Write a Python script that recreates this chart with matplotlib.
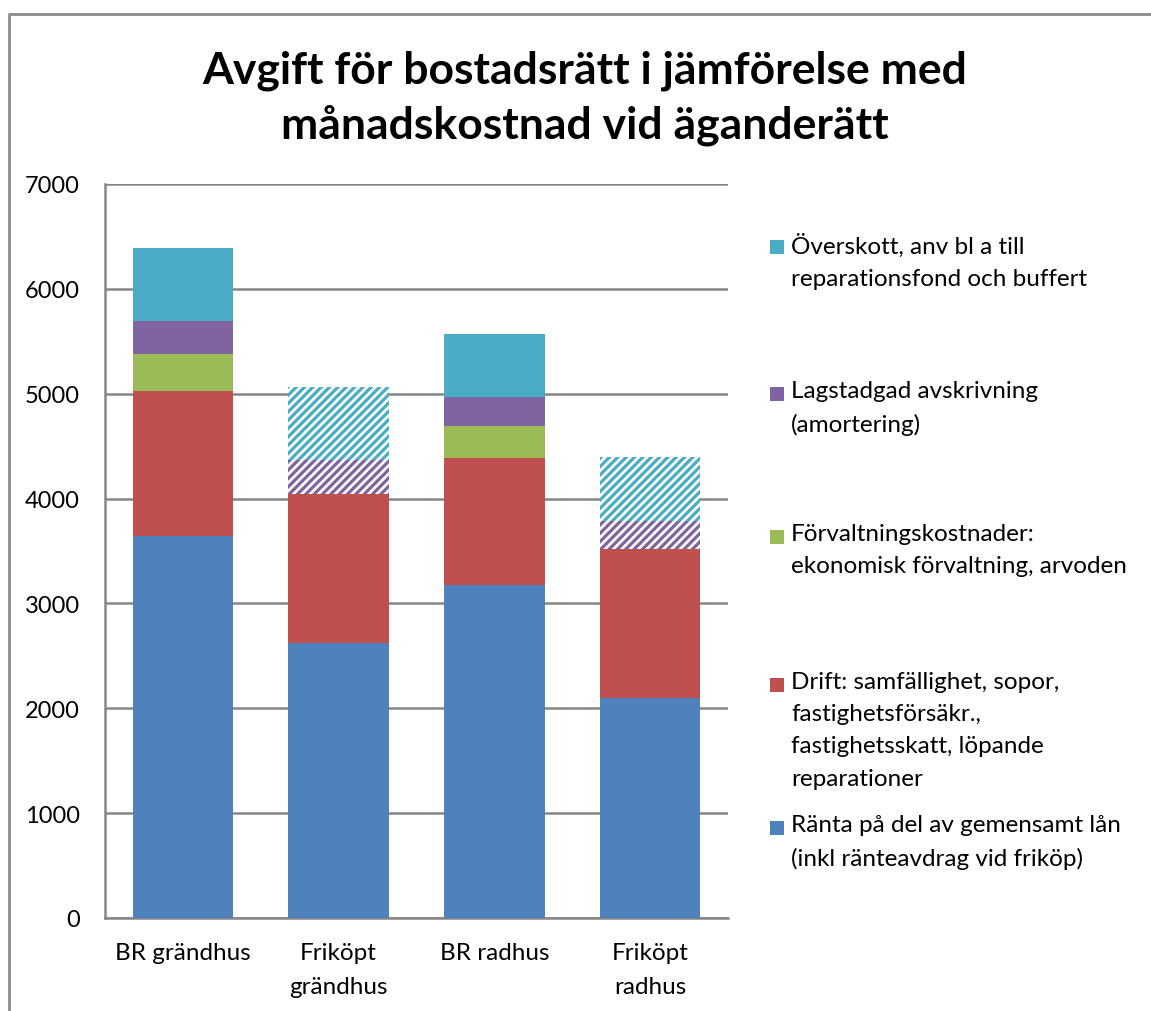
import matplotlib.pyplot as plt
from matplotlib.patches import Rectangle
from matplotlib.lines import Line2D
import numpy as np

# Data
categories = ["BR grändhus", "Friköpt\ngrändhus", "BR radhus", "Friköpt\nradhus"]
ranta = [3640, 2620, 3180, 2100]
drift = [1390, 1420, 1210, 1415]
forvaltning = [350, 0, 305, 0]
avskrivning = [315, 325, 275, 275]
overskott = [695, 695, 600, 610]
friköpt = [False, True, False, True]

series_labels = [
    "Ränta på del av gemensamt lån\n(inkl ränteavdrag vid friköp)",
    "Drift: samfällighet, sopor,\nfastighetsförsäkr.,\nfastighetsskatt, löpande\nreparationer",
    "Förvaltningskostnader:\nekonomisk förvaltning, arvoden",
    "Lagstadgad avskrivning\n(amortering)",
    "Överskott, anv bl a till\nreparationsfond och buffert",
]
colors = ["#4F81BD", "#C0504D", "#9BBB59", "#8064A2", "#4BACC6"]
series = [ranta, drift, forvaltning, avskrivning, overskott]

plt.rcParams['font.family'] = ['Lato', 'DejaVu Sans']
plt.rcParams['hatch.linewidth'] = 2.3

W, H = 1151, 1012
fig = plt.figure(figsize=(W / 100, H / 100), dpi=100)

# Outer chart border (only left and top are visible in the crop)
fig.add_artist(Line2D([8.5 / W, 8.5 / W, 1.0], [0.0, 1 - 14.5 / H, 1 - 14.5 / H],
                      transform=fig.transFigure, color="#8c8c8c", linewidth=2))

ax = fig.add_axes([105 / W, (H - 919) / H, (728 - 105) / W, (919 - 185) / H])
x = np.arange(len(categories))
bottom = np.zeros(len(categories))
for i, (vals, col) in enumerate(zip(series, colors)):
    for j in range(len(categories)):
        if vals[j] == 0:
            continue
        if friköpt[j] and i >= 3:
            # friköpt: hatched, no real cost in the förening
            ax.bar(x[j], vals[j], 0.645, bottom=bottom[j], facecolor="white", edgecolor=col,
                   hatch="////", linewidth=0, zorder=3)
        else:
            ax.bar(x[j], vals[j], 0.645, bottom=bottom[j], color=col, linewidth=0, zorder=3)
    bottom += np.array(vals)

ax.set_xlim(-0.5, 3.5)
ax.set_ylim(0, 7000)
ax.set_yticks(range(0, 7001, 1000))
ax.yaxis.grid(True, color="#868686", linewidth=1.8, zorder=0)
ax.set_axisbelow(True)
for s in ["top", "right"]:
    ax.spines[s].set_visible(False)
for s in ["left", "bottom"]:
    ax.spines[s].set_color("#868686")
    ax.spines[s].set_linewidth(1.8)
ax.tick_params(axis="y", length=0, pad=18, labelsize=17)
ax.tick_params(axis="x", length=0, pad=17, labelsize=17.5)
ax.set_xticks(x)
ax.set_xticklabels(categories, linespacing=1.8)

fig.text(585 / W, 1 - 98 / H, "Avgift för bostadsrätt i jämförelse med\nmånadskostnad vid äganderätt",
         ha="center", va="center", fontsize=32, fontweight="bold", linespacing=1.4)

# Legend (top to bottom)
leg_y = [829, 686, 538, 395, 248]
for lab, col, yy in zip(series_labels, colors, leg_y):
    fig.add_artist(Rectangle((770 / W, 1 - (yy + 7) / H), 14 / W, 14 / H,
                             transform=fig.transFigure, facecolor=col, edgecolor="none"))
    fig.text(791 / W, 1 - (yy - 14) / H, lab, ha="left", va="top", fontsize=17.5, linespacing=1.66)

fig.savefig("out.png", dpi=100)
